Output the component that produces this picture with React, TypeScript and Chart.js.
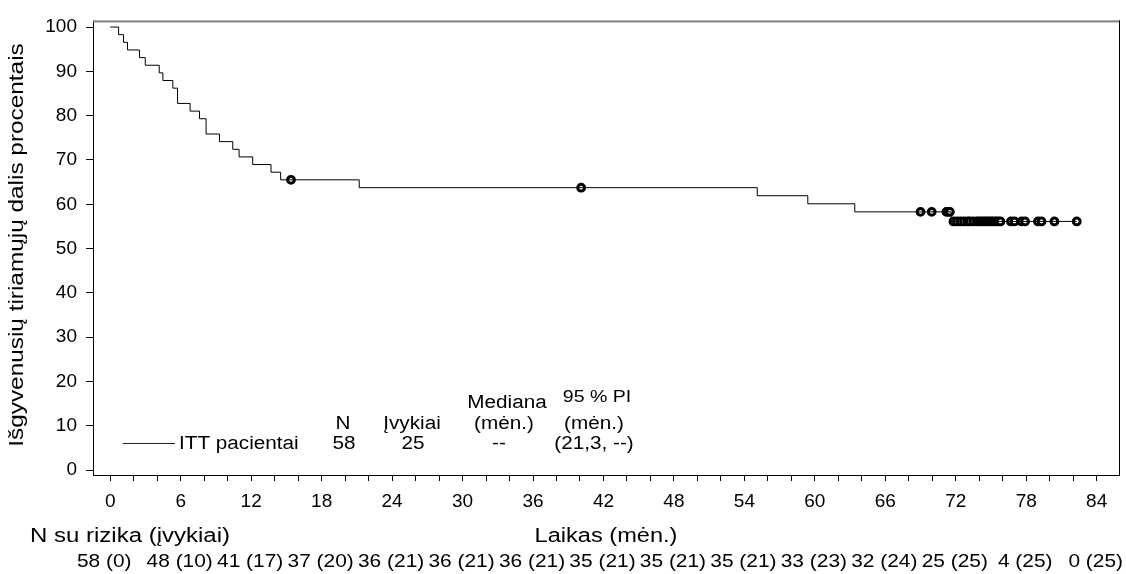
import React, { useEffect, useRef } from "react";
import { Chart, registerables } from "chart.js";

Chart.register(...registerables);

const FONT = '"Liberation Sans", Arial, sans-serif';

// Kaplan-Meier step curve (time in months, % surviving after each step)
const kmTimes = [0, 0.71, 1.13, 1.47, 2.49, 2.98, 4.17, 4.48, 5.33, 5.73, 6.8, 7.6, 8.16, 9.3, 10.43, 10.97, 12.13, 13.69, 14.51, 21.2, 55.1, 59.4, 63.4, 71.6, 82.3];
const kmSurvival = [100, 98.28, 96.55, 94.83, 93.1, 91.38, 89.66, 87.93, 86.21, 82.76, 81.03, 79.31, 75.86, 74.14, 72.41, 70.69, 68.97, 67.24, 65.52, 63.75, 61.93, 60.11, 58.29, 56.13, 56.13];

// Censored observations
const censorTimes = [15.39, 40.1, 69.0, 69.95, 71.2, 71.35, 71.5, 71.8, 72.1, 72.4, 72.7, 73.0, 73.2, 73.5, 73.8, 74.0, 74.2, 74.4, 74.6, 74.8, 75.0, 75.2, 75.4, 75.6, 75.8, 76.7, 77.0, 77.6, 77.9, 79.0, 79.3, 80.4, 82.3];
const censorSurvival = [65.52, 63.75, 58.29, 58.29, 58.29, 58.29, 58.29, 56.13, 56.13, 56.13, 56.13, 56.13, 56.13, 56.13, 56.13, 56.13, 56.13, 56.13, 56.13, 56.13, 56.13, 56.13, 56.13, 56.13, 56.13, 56.13, 56.13, 56.13, 56.13, 56.13, 56.13, 56.13, 56.13];

// Axis ticks
const xTickLabels = [0, 6, 12, 18, 24, 30, 36, 42, 48, 54, 60, 66, 72, 78, 84];
const yTickLabels = [0, 10, 20, 30, 40, 50, 60, 70, 80, 90, 100];

// Number at risk table
const riskTimes = [0, 6, 12, 18, 24, 30, 36, 42, 48, 54, 60, 66, 72, 78, 84];
const riskLabels = ["58 (0)", "48 (10)", "41 (17)", "37 (20)", "36 (21)", "36 (21)", "36 (21)", "35 (21)", "35 (21)", "35 (21)", "33 (23)", "32 (24)", "25 (25)", "4 (25)", "0 (25)"];

// Legend table
const legendHeaders = ["N", "Įvykiai", "Mediana", "95 % PI"];
const legendUnits = "(mėn.)";
const legendRow = ["ITT pacientai", "58", "25", "--", "(21,3, --)"];

function drawText(
  ctx: CanvasRenderingContext2D,
  text: string,
  x: number,
  y: number,
  size: number,
  align: CanvasTextAlign,
  sx: number
) {
  ctx.save();
  ctx.translate(x, y);
  ctx.scale(sx, 1);
  ctx.font = `${size}px ${FONT}`;
  ctx.textAlign = align;
  ctx.textBaseline = "middle";
  ctx.fillStyle = "#000";
  ctx.fillText(text, 0, 0);
  ctx.restore();
}

export default function App() {
  const ref = useRef<HTMLCanvasElement | null>(null);

  useEffect(() => {
    const canvas = ref.current;
    if (!canvas) return;

    const minorTicks: number[] = [];
    for (let v = 0; v <= 84; v += 2) minorTicks.push(v);

    const textPlugin = {
      id: "kmTexts",
      afterDraw(chart: any) {
        const ctx = chart.ctx as CanvasRenderingContext2D;
        const a = chart.chartArea;
        const xs = chart.scales.x;
        ctx.save();
        // top frame (grey, 2px) and right frame
        ctx.fillStyle = "#808080";
        ctx.fillRect(a.left, a.top, a.right - a.left + 1, 2);
        ctx.strokeStyle = "#000";
        ctx.lineWidth = 1;
        ctx.beginPath();
        ctx.moveTo(Math.round(a.right) + 0.5, a.top);
        ctx.lineTo(Math.round(a.right) + 0.5, a.bottom);
        ctx.stroke();

        // y title (stretched along text direction)
        ctx.save();
        ctx.translate(17, 245);
        ctx.rotate(-Math.PI / 2);
        drawText(ctx, "Išgyvenusių tiriamųjų dalis procentais", 0, 0, 21, "center", 1.16);
        ctx.restore();

        // x title and risk label
        drawText(ctx, "N su rizika (įvykiai)", 30, 536, 20, "left", 1.2);
        drawText(ctx, "Laikas (mėn.)", (a.left + a.right) / 2, 536, 20, "center", 1.18);

        // risk table
        riskTimes.forEach((t, i) => {
          const off = i === 0 ? -6 : -1;
          drawText(ctx, riskLabels[i], xs.getPixelForValue(t) + off, 562, 19, "center", 1.1);
        });

        // legend table
        const rowY = 443;
        ctx.strokeStyle = "#222";
        ctx.lineWidth = 1;
        ctx.beginPath();
        ctx.moveTo(123, rowY + 0.5);
        ctx.lineTo(175, rowY + 0.5);
        ctx.stroke();
        const fs = 18;
        const sx = 1.15;
        const ty = rowY + 1;
        drawText(ctx, legendRow[0], 179, ty, fs, "left", sx);
        drawText(ctx, legendRow[1], 344, ty, fs, "center", sx);
        drawText(ctx, legendRow[2], 413, ty, fs, "center", sx);
        drawText(ctx, legendRow[3], 499, ty, fs, "center", sx);
        drawText(ctx, legendRow[4], 594, ty, fs, "center", sx);
        drawText(ctx, legendHeaders[0], 343, ty - 20, fs, "center", sx);
        drawText(ctx, legendHeaders[1], 412, ty - 20, fs, "center", sx);
        drawText(ctx, legendUnits, 504, ty - 20, fs, "center", sx);
        drawText(ctx, legendUnits, 594, ty - 20, fs, "center", sx);
        drawText(ctx, legendHeaders[2], 507, ty - 41, fs, "center", sx);
        drawText(ctx, legendHeaders[3], 597, ty - 47, 17, "center", sx);
        ctx.restore();
      },
    };

    const chart = new Chart(canvas, {
      type: "line",
      data: {
        datasets: [
          {
            type: "line",
            data: kmTimes.map((t, i) => ({ x: t, y: kmSurvival[i] })),
            stepped: "before",
            borderColor: "#000",
            borderWidth: 1,
            pointRadius: 0,
            fill: false,
          } as any,
          {
            type: "scatter",
            data: censorTimes.map((t, i) => ({ x: t, y: censorSurvival[i] })),
            pointStyle: "circle",
            pointRadius: 3.4,
            pointBorderWidth: 3,
            borderColor: "#000",
            backgroundColor: "#fff",
          } as any,
        ],
      },
      options: {
        responsive: false,
        animation: false,
        devicePixelRatio: 1,
        layout: { padding: { left: 0, top: 15, right: 6, bottom: 0 } },
        plugins: { legend: { display: false }, tooltip: { enabled: false } },
        scales: {
          x: {
            type: "linear",
            min: -1.47,
            max: 85.9,
            afterBuildTicks: (scale: any) => {
              scale.ticks = minorTicks.map((v) => ({ value: v }));
            },
            afterFit: (scale: any) => {
              scale.height = 99;
            },
            ticks: {
              autoSkip: false,
              maxRotation: 0,
              padding: 9,
              color: "#000",
              font: { family: FONT, size: 19 },
              callback: (v: any) => (xTickLabels.includes(Number(v)) ? String(v) : ""),
            },
            grid: { drawOnChartArea: false, drawTicks: true, tickLength: 6, color: "#000" },
            border: { display: true, color: "#000", width: 1 },
          },
          y: {
            type: "linear",
            min: -1.1,
            max: 101.5,
            afterBuildTicks: (scale: any) => {
              scale.ticks = yTickLabels.map((v) => ({ value: v }));
            },
            afterFit: (scale: any) => {
              scale.width = 93;
            },
            ticks: {
              padding: 9,
              color: "#000",
              font: { family: FONT, size: 19 },
              callback: (v: any) => String(v),
            },
            grid: { drawOnChartArea: false, drawTicks: true, tickLength: 7, color: "#000" },
            border: { display: true, color: "#000", width: 1 },
          },
        },
      },
      plugins: [textPlugin],
    });

    return () => chart.destroy();
  }, []);

  return (
    <div style={{ position: "absolute", left: 0, top: 0, width: 1126, height: 574, background: "#fff" }}>
      <canvas ref={ref} width={1126} height={574} style={{ display: "block" }} />
    </div>
  );
}
